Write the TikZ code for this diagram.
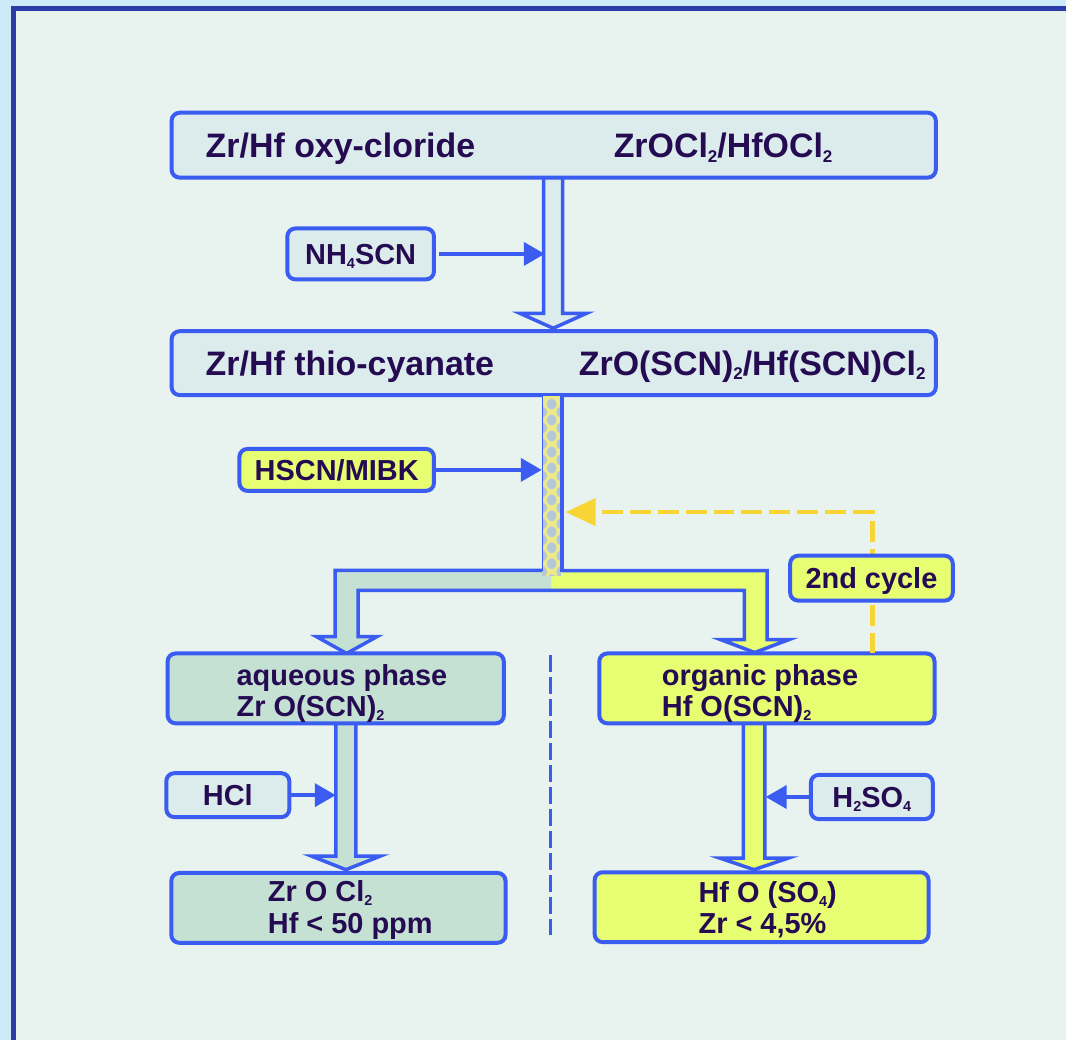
\documentclass[tikz,border=0pt]{standalone}
\usepackage{fontspec}
\setmainfont{Liberation Sans}
\usetikzlibrary{arrows.meta}
\definecolor{outerbg}{HTML}{CCEBF8}
\definecolor{panelbg}{HTML}{E8F2EE}
\definecolor{panelline}{HTML}{2B3BA8}
\definecolor{bblue}{HTML}{3A5CF0}
\definecolor{lightfill}{HTML}{DCEBEC}
\definecolor{yfill}{HTML}{E8FE72}
\definecolor{gfill}{HTML}{C4E1D3}
\definecolor{gold}{HTML}{F8D535}
\definecolor{txt}{HTML}{250B52}
\definecolor{shafty}{HTML}{EBE98A}
\definecolor{dotc}{HTML}{B5C6D8}
\newcommand\lsub[1]{\raisebox{-0.14em}{\scalebox{0.5}{#1}}}
\begin{document}
\begin{tikzpicture}[x=1pt,y=-1pt,
  pbox/.style={draw=bblue, line width=4pt, rounded corners=8pt, inner sep=0pt, outer sep=0pt, anchor=north west, text=txt, text height=21pt, text depth=0pt, font=\bfseries\fontsize{29}{34}\selectfont},
  lbl/.style={anchor=base west, inner sep=0pt, text=txt, font=\bfseries\fontsize{29}{34}\selectfont},
  big/.style={font=\bfseries\fontsize{34}{40}\selectfont},
  feed/.style={draw=bblue, line width=4pt, -{Triangle[length=21pt,width=23pt]}},
  block/.style={draw=bblue, line width=3.5pt, line join=miter},
  cyc/.style={draw=gold, line width=4.5pt, dash pattern=on 21pt off 7pt, -{Triangle[length=30pt,width=27pt]}},
  divider/.style={draw=bblue, line width=3pt, dash pattern=on 17pt off 5pt}]
% background
\fill[outerbg] (0,0) rectangle (1068,1042);
\fill[panelbg] (13.5,8.8) rectangle (1068,1042);
\draw[panelline, line width=5pt] (13.5,1042) -- (13.5,8.8) -- (1068,8.8);
\useasboundingbox (0,0) rectangle (1068,1042);

% block arrow 1
\filldraw[block, fill=lightfill] (545,178) -- (545,314) -- (521,314) -- (554.5,329) -- (588,314) -- (564,314) -- (564,178);

% top box
\node[pbox, fill=lightfill, minimum width=766pt, minimum height=65pt] (top) at (172,113) {};
\node[lbl,big] (t1) at (206,158) {Zr/Hf oxy-cloride};
\node[lbl,big] (t2) at (615,158) {ZrOCl\lsub{2}/HfOCl\lsub{2}};

% NH4SCN
\node[pbox, fill=lightfill, minimum width=147pt, minimum height=51pt] (nh4) at (288,229) {NH\lsub{4}SCN};
\coordinate (s1) at (546,0);
\draw[feed] ([xshift=5pt]nh4.east) -- (nh4.east -| s1);

% box 2
\node[pbox, fill=lightfill, minimum width=766pt, minimum height=64pt] (mid) at (172,332) {};
\node[lbl,big] (m1) at (206,376) {Zr/Hf thio-cyanate};
\node[lbl,big] (m2) at (580,376) {ZrO(SCN)\lsub{2}/Hf(SCN)Cl\lsub{2}};

% split branches
\fill[gfill] (553,571.7) -- (336,571.7) -- (336,638) -- (317,638) -- (347.5,655) -- (378,638) -- (359,638) -- (359,591.7) -- (553,591.7) -- cycle;
\fill[yfill] (553,572) -- (769,572) -- (769,641) -- (722,641) -- (756.5,654) -- (791,641) -- (746,641) -- (746,591.7) -- (553,591.7) -- cycle;
\draw[block] (543.5,571.7) -- (336,571.7) -- (336,638) -- (317,638) -- (347.5,655) -- (378,638) -- (359,638) -- (359,591.7) -- (746,591.7) -- (746,641) -- (722,641) -- (756.5,654) -- (791,641) -- (769,641) -- (769,572) -- (563,572);

% dotted shaft
\fill[shafty] (543.5,397) rectangle (562.5,577);
\begin{scope}
\clip (543.5,397) rectangle (562.5,577);
\foreach \k in {0,...,11} {
  \fill[dotc] (553,{405+16*\k}) ellipse [x radius=4.8pt, y radius=5.5pt];
  \fill[dotc] (543.5,{413+16*\k}) ellipse [x radius=4.8pt, y radius=5.5pt];
  \fill[dotc] (562.5,{413+16*\k}) ellipse [x radius=4.8pt, y radius=5.5pt];
}
\end{scope}
\draw[bblue, line width=1.2pt] (543.5,397) -- (543.5,572);
\draw[bblue, line width=3.5pt] (563.5,397) -- (563.5,573);

% HSCN/MIBK
\node[pbox, fill=yfill, minimum width=195pt, minimum height=42pt] (hscn) at (240,450) {HSCN/MIBK};
\coordinate (s2L) at (543,0);
\draw[feed] (hscn.east) -- (hscn.east -| s2L);

% lower block arrows
\filldraw[block, fill=gfill] (336.7,725) -- (336.7,858) -- (312,858) -- (346.7,871.7) -- (381.4,858) -- (356.7,858) -- (356.7,725);
\filldraw[block, fill=yfill] (745,725) -- (745,860) -- (721.3,860) -- (755.8,871.7) -- (790.3,860) -- (766.7,860) -- (766.7,725);

% divider
\draw[divider] (552,657) -- (552,937);

% phase boxes
\node[pbox, fill=gfill, minimum width=337pt, minimum height=70pt] (aq) at (168,655) {};
\node[lbl] (aq1) at (237,687) {aqueous phase};
\node[lbl] (aq2) at (237,718) {Zr O(SCN)\lsub{2}};
\node[pbox, fill=yfill, minimum width=336pt, minimum height=70pt] (org) at (600.7,655) {};
\node[lbl] (og1) at (663.3,687) {organic phase};
\node[lbl] (og2) at (663.3,718) {Hf O(SCN)\lsub{2}};

% 2nd cycle loop
\coordinate (cx) at (874.5,0);
\coordinate (s2R) at (567,513.3);
\draw[cyc] (org.north -| cx) |- (s2R);
\node[pbox, fill=yfill, minimum width=163pt, minimum height=45pt] (cycle) at (792,557) {2nd cycle};

% HCl
\node[pbox, fill=lightfill, minimum width=123.3pt, minimum height=44pt] (hcl) at (166.7,775) {HCl};
\coordinate (s3) at (336.5,0);
\draw[feed] (hcl.east) -- (hcl.east -| s3);

% H2SO4
\node[pbox, fill=lightfill, minimum width=122.3pt, minimum height=44.3pt] (h2so4) at (812.7,776.7) {H\lsub{2}SO\lsub{4}};
\coordinate (s4) at (767.5,0);
\draw[feed] (h2so4.west) -- (h2so4.west -| s4);

% result boxes
\node[pbox, fill=gfill, minimum width=335pt, minimum height=70pt] (zr) at (171.7,875) {};
\node[lbl] (zr1) at (268.3,903.5) {Zr O Cl\lsub{2}};
\node[lbl] (zr2) at (268.3,935.5) {Hf < 50 ppm};
\node[pbox, fill=yfill, minimum width=334.7pt, minimum height=70pt] (hf) at (596,874.3) {};
\node[lbl] (hf1) at (700,904.5) {Hf O (SO\lsub{4})};
\node[lbl] (hf2) at (700,935.5) {Zr < 4,5\%};
\end{tikzpicture}
\end{document}
